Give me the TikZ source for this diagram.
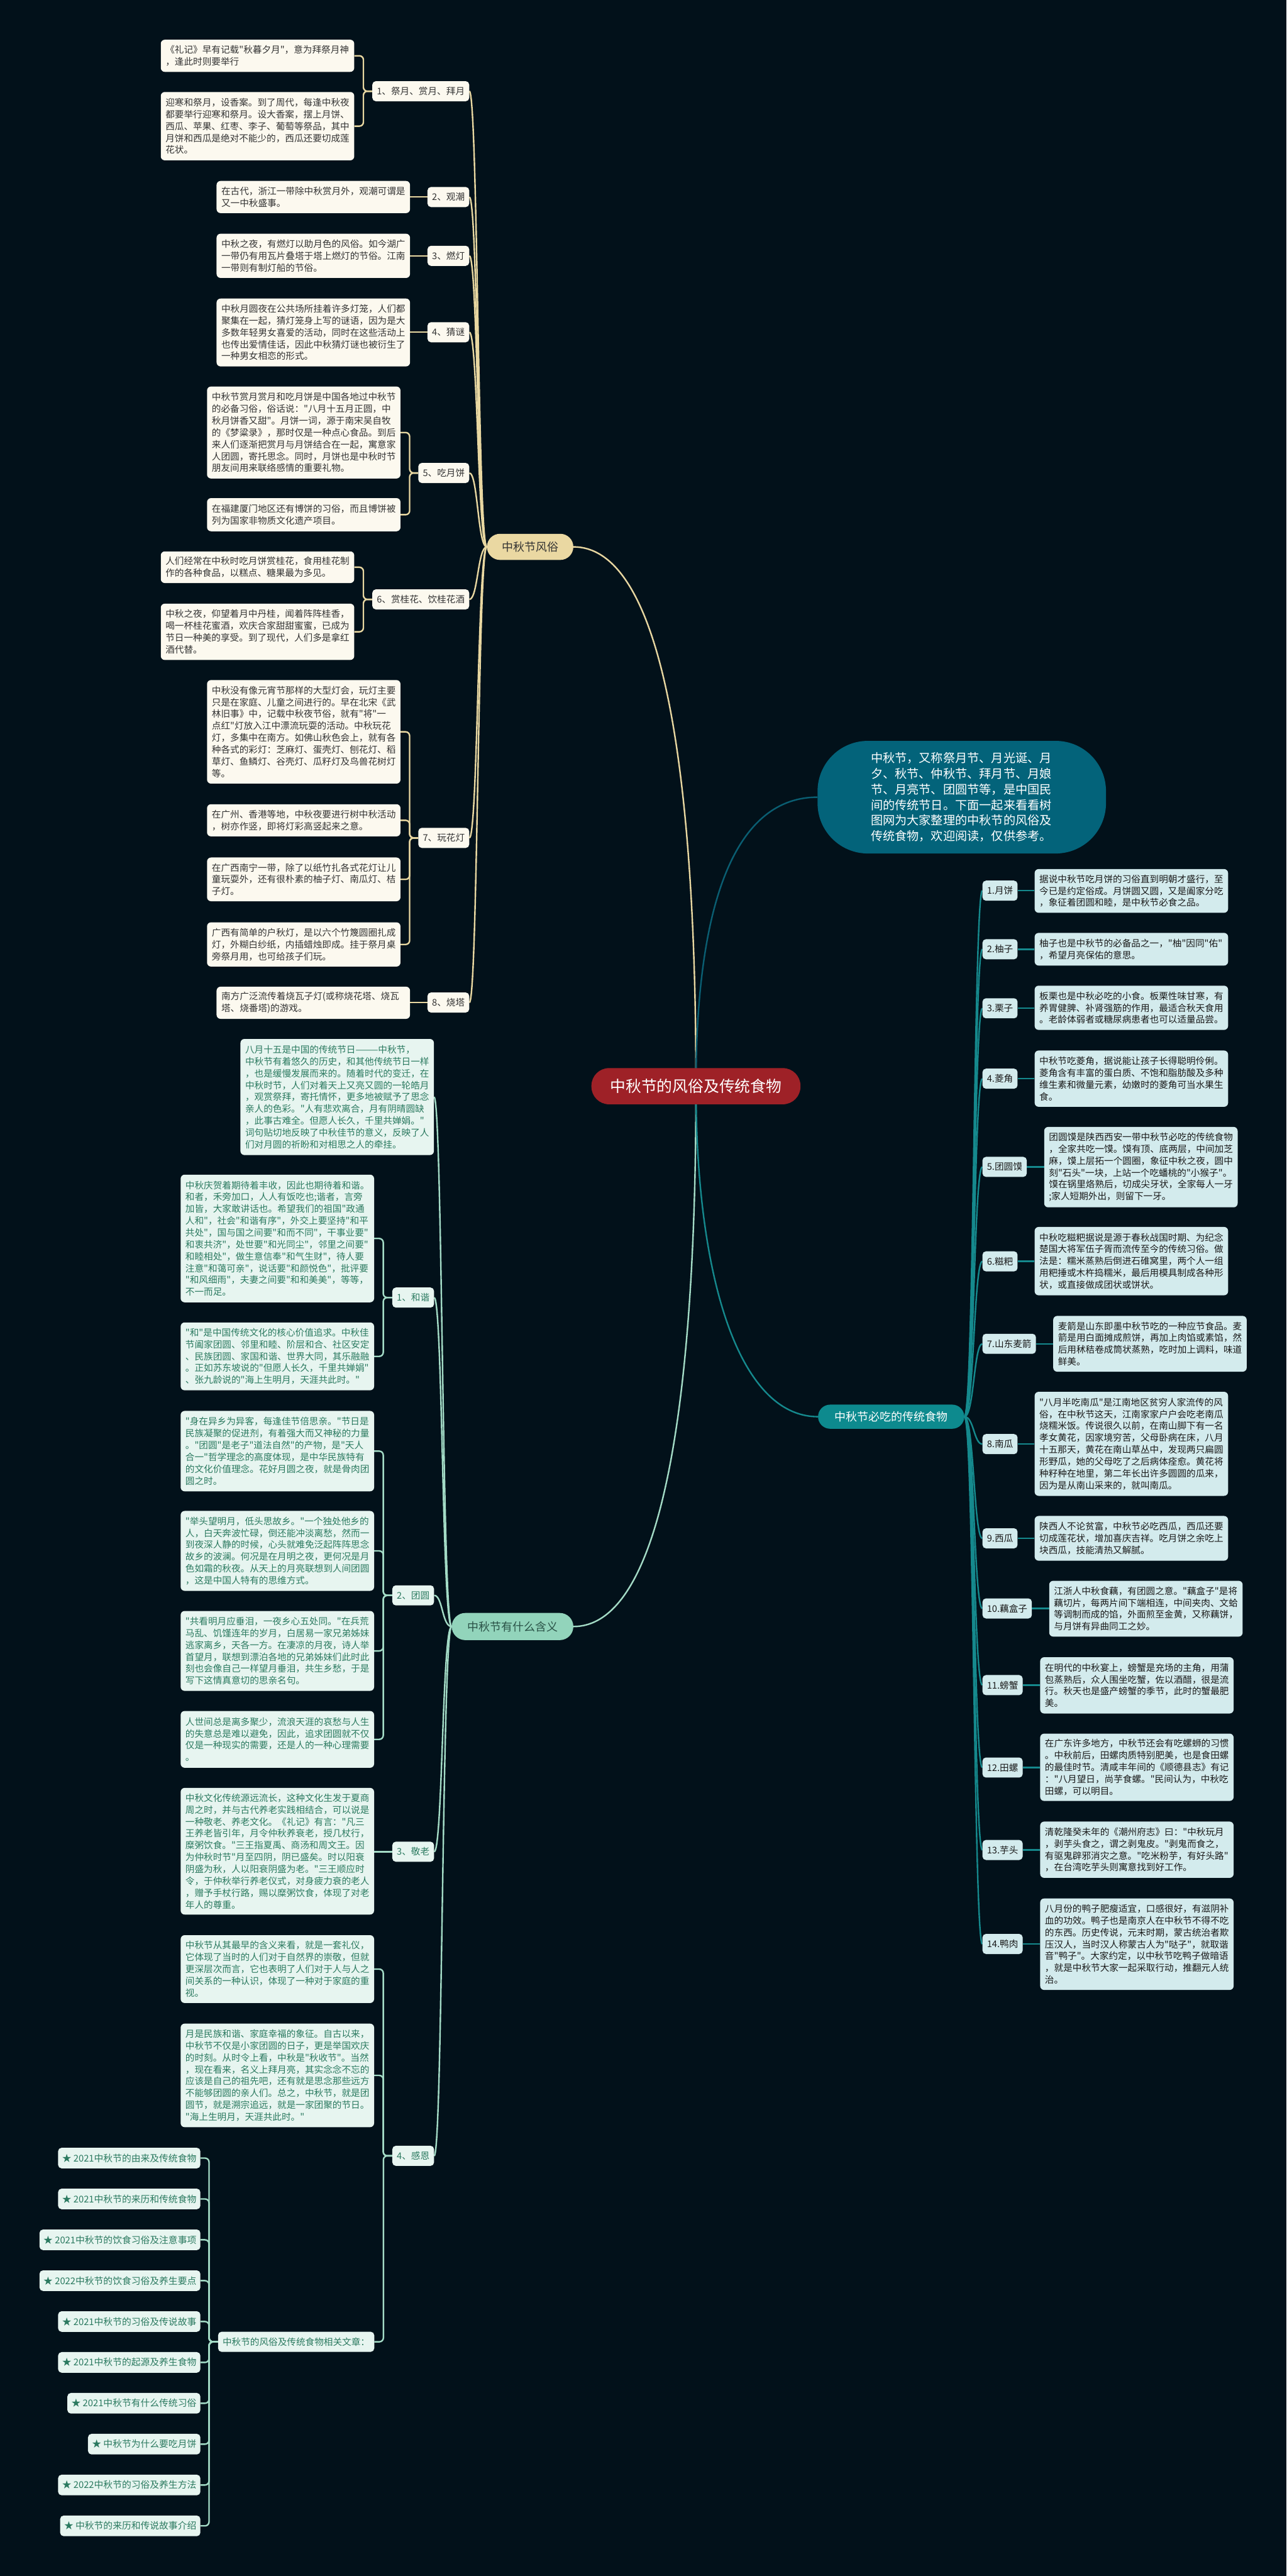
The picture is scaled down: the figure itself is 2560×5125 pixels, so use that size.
\documentclass[tikz,border=0pt]{standalone}
\usepackage{fontspec}
\newfontfamily\cjk{Noto Sans CJK SC}
\usetikzlibrary{calc}
\pgfdeclarelayer{bgl}
\pgfdeclarelayer{lnl}
\pgfsetlayers{bgl,lnl,main}
\definecolor{bgc}{HTML}{02111A}
\definecolor{creamf}{HTML}{FCF9EF}
\definecolor{darkt}{HTML}{333333}
\definecolor{beigel}{HTML}{E8D7A1}
\definecolor{beigef}{HTML}{EAD8A2}
\definecolor{mintf}{HTML}{E7F5F0}
\definecolor{mintt}{HTML}{2B7A60}
\definecolor{mintl}{HTML}{A3DBC6}
\definecolor{mintb}{HTML}{92D4BB}
\definecolor{mintbt}{HTML}{2A5247}
\definecolor{foodf}{HTML}{D3EBED}
\definecolor{foodt}{HTML}{1A1A1A}
\definecolor{foodl}{HTML}{15898D}
\definecolor{foodb}{HTML}{0D8A8E}
\definecolor{sumf}{HTML}{03637A}
\definecolor{suml}{HTML}{0A5E72}
\definecolor{rootf}{HTML}{9E2127}
\tikzset{
  txtbox/.style={rounded corners=8pt, align=left, text width=366pt, inner xsep=9.5pt, inner ysep=3pt, font=\cjk\fontsize{18.3}{23.6}\selectfont},
  cbox/.style={txtbox, fill=creamf, text=darkt},
  mbox/.style={txtbox, fill=mintf, text=mintt},
  fbox/.style={txtbox, fill=foodf, text=foodt},
  labbox/.style={rounded corners=7pt, inner xsep=9pt, inner ysep=0pt, minimum height=40pt, font=\cjk\fontsize{18.3}{22}\selectfont},
  clab/.style={labbox, fill=creamf, text=darkt, anchor=east},
  mlab/.style={labbox, fill=mintf, text=mintt, anchor=east},
  flab/.style={labbox, fill=foodf, text=foodt, anchor=west},
  itembox/.style={labbox, fill=mintf, text=mintt, anchor=east, inner xsep=8pt, minimum height=41pt, font=\cjk\fontsize{18.5}{22}\selectfont},
  bline/.style={draw=beigel, line width=3pt},
  mline/.style={draw=mintl, line width=3pt},
  fline/.style={draw=foodl, line width=3pt},
  brk/.style={rounded corners=8pt},
}
\begin{document}
\cjk
\begin{tikzpicture}[x=1pt,y=-1pt]
\useasboundingbox (0,0) rectangle (2560,5125);
\begin{pgfonlayer}{bgl}
\fill[bgc] (0,0) rectangle (2560,5125);
\end{pgfonlayer}

% ---------- root and branches ----------
\node[fill=rootf, text=white, rounded corners=35pt, minimum width=416pt, minimum height=72pt, font=\cjk\fontsize{31}{36}\selectfont] (root) at (1385,2161) {中秋节的风俗及传统食物};
\node[fill=beigef, text=darkt, rounded corners=26pt, minimum width=172pt, minimum height=52pt, font=\cjk\fontsize{22.5}{26}\selectfont] (b1) at (1055,1088) {中秋节风俗};
\node[fill=mintb, text=mintbt, rounded corners=27pt, minimum width=242pt, minimum height=54pt, font=\cjk\fontsize{22.5}{26}\selectfont] (b2) at (1020,3236) {中秋节有什么含义};
\node[fill=foodb, text=white, rounded corners=24pt, minimum width=291pt, minimum height=48pt, font=\cjk\fontsize{22.5}{26}\selectfont] (b3) at (1773.5,2818.5) {中秋节必吃的传统食物};
\node[fill=sumf, text=white, rounded corners=100pt, minimum width=574pt, minimum height=224pt, align=left, text width=362pt, font=\cjk\fontsize{24}{31}\selectfont] (sum) at (1914,1586) {中秋节，又称祭月节、月光诞、月\\夕、秋节、仲秋节、拜月节、月娘\\节、月亮节、团圆节等，是中国民\\间的传统节日。下面一起来看看树\\图网为大家整理的中秋节的风俗及\\传统食物，欢迎阅读，仅供参考。};

% ---------- 中秋节风俗 ----------
\node[clab] (tl1) at (934,181.5) {1、祭月、赏月、拜月};
\node[clab] (tl2) at (934,392) {2、观潮};
\node[clab] (tl3) at (934,509) {3、燃灯};
\node[clab] (tl4) at (934,661) {4、猜谜};
\node[clab] (tl5) at (934,941) {5、吃月饼};
\node[clab] (tl6) at (934,1192.5) {6、赏桂花、饮桂花酒};
\node[clab] (tl7) at (934,1667) {7、玩花灯};
\node[clab] (tl8) at (934,1994.5) {8、烧塔};

\node[cbox, minimum height=64pt] (ta1) at (512.5,111) {《礼记》早有记载"秋暮夕月"，意为拜祭月神\\，逢此时则要举行};
\node[cbox, minimum height=136pt] (ta2) at (512.5,251) {迎寒和祭月，设香案。到了周代，每逢中秋夜\\都要举行迎寒和祭月。设大香案，摆上月饼、\\西瓜、苹果、红枣、李子、葡萄等祭品，其中\\月饼和西瓜是绝对不能少的，西瓜还要切成莲\\花状。};
\node[cbox, minimum height=64pt] (tb) at (623.5,392) {在古代，浙江一带除中秋赏月外，观潮可谓是\\又一中秋盛事。};
\node[cbox, minimum height=88pt] (tc) at (623.5,509) {中秋之夜，有燃灯以助月色的风俗。如今湖广\\一带仍有用瓦片叠塔于塔上燃灯的节俗。江南\\一带则有制灯船的节俗。};
\node[cbox, minimum height=135pt] (td) at (623.5,661.5) {中秋月圆夜在公共场所挂着许多灯笼，人们都\\聚集在一起，猜灯笼身上写的谜语，因为是大\\多数年轻男女喜爱的活动，同时在这些活动上\\也传出爱情佳话，因此中秋猜灯谜也被衍生了\\一种男女相恋的形式。};
\node[cbox, minimum height=183pt] (te1) at (604.5,860.5) {中秋节赏月赏月和吃月饼是中国各地过中秋节\\的必备习俗，俗话说："八月十五月正圆，中\\秋月饼香又甜"。月饼一词，源于南宋吴自牧\\的《梦粱录》，那时仅是一种点心食品。到后\\来人们逐渐把赏月与月饼结合在一起，寓意家\\人团圆，寄托思念。同时，月饼也是中秋时节\\朋友间用来联络感情的重要礼物。};
\node[cbox, minimum height=66pt] (te2) at (604.5,1024) {在福建厦门地区还有博饼的习俗，而且博饼被\\列为国家非物质文化遗产项目。};
\node[cbox, minimum height=63pt] (tf1) at (512.5,1128.5) {人们经常在中秋时吃月饼赏桂花，食用桂花制\\作的各种食品，以糕点、糖果最为多见。};
\node[cbox, minimum height=112pt] (tf2) at (512.5,1257) {中秋之夜，仰望着月中丹桂，闻着阵阵桂香，\\喝一杯桂花蜜酒，欢庆合家甜甜蜜蜜，已成为\\节日一种美的享受。到了现代，人们多是拿红\\酒代替。};
\node[cbox, minimum height=206pt] (tg1) at (604.5,1456) {中秋没有像元宵节那样的大型灯会，玩灯主要\\只是在家庭、儿童之间进行的。早在北宋《武\\林旧事》中，记载中秋夜节俗，就有"将"一\\点红"灯放入江中漂流玩耍的活动。中秋玩花\\灯，多集中在南方。如佛山秋色会上，就有各\\种各式的彩灯：芝麻灯、蛋壳灯、刨花灯、稻\\草灯、鱼鳞灯、谷壳灯、瓜籽灯及鸟兽花树灯\\等。};
\node[cbox, minimum height=64pt] (tg2) at (604.5,1632) {在广州、香港等地，中秋夜要进行树中秋活动\\，树亦作竖，即将灯彩高竖起来之意。};
\node[cbox, minimum height=87pt] (tg3) at (604.5,1749.5) {在广西南宁一带，除了以纸竹扎各式花灯让儿\\童玩耍外，还有很朴素的柚子灯、南瓜灯、桔\\子灯。};
\node[cbox, minimum height=88pt] (tg4) at (604.5,1879) {广西有简单的户秋灯，是以六个竹篾圆圈扎成\\灯，外糊白纱纸，内插蜡烛即成。挂于祭月桌\\旁祭月用，也可给孩子们玩。};
\node[cbox, minimum height=64pt] (th) at (623.5,1995) {南方广泛流传着烧瓦子灯(或称烧花塔、烧瓦\\塔、烧番塔)的游戏。};

% ---------- 中秋节有什么含义 ----------
\node[mbox, minimum height=231pt] (m0) at (671,2182.5) {八月十五是中国的传统节日———中秋节，\\中秋节有着悠久的历史，和其他传统节日一样\\，也是缓慢发展而来的。随着时代的变迁，在\\中秋时节，人们对着天上又亮又圆的一轮皓月\\，观赏祭拜，寄托情怀，更多地被赋予了思念\\亲人的色彩。"人有悲欢离合，月有阴晴圆缺\\，此事古难全。但愿人长久，千里共婵娟。"\\词句贴切地反映了中秋佳节的意义，反映了人\\们对月圆的祈盼和对相思之人的牵挂。};
\node[mlab] (lh) at (864,2581.5) {1、和谐};
\node[mlab] (lt) at (864,3174) {2、团圆};
\node[mlab] (lj) at (864,3684) {3、敬老};
\node[mlab] (lg) at (864,4289) {4、感恩};

\node[mbox, minimum height=254pt] (mh1) at (552,2464) {中秋庆贺着期待着丰收，因此也期待着和谐。\\和者，禾旁加口，人人有饭吃也;谐者，言旁\\加皆，大家敢讲话也。希望我们的祖国"政通\\人和"，社会"和谐有序"，外交上要坚持"和平\\共处"，国与国之间要"和而不同"，干事业要"\\和衷共济"，处世要"和光同尘"，邻里之间要"\\和睦相处"，做生意信奉"和气生财"，待人要\\注意"和蔼可亲"，说话要"和颜悦色"，批评要\\"和风细雨"，夫妻之间要"和和美美"，等等，\\不一而足。};
\node[mbox, minimum height=135pt] (mh2) at (552,2698.5) {"和"是中国传统文化的核心价值追求。中秋佳\\节阖家团圆、邻里和睦、阶层和合、社区安定\\、民族团圆、家国和谐、世界大同，其乐融融\\。正如苏东坡说的"但愿人长久，千里共婵娟"\\、张九龄说的"海上生明月，天涯共此时。"};
\node[mbox, minimum height=160pt] (mt1) at (552,2887) {"身在异乡为异客，每逢佳节倍思亲。"节日是\\民族凝聚的促进剂，有着强大而又神秘的力量\\。"团圆"是老子"道法自然"的产物，是"天人\\合一"哲学理念的高度体现，是中华民族特有\\的文化价值理念。花好月圆之夜，就是骨肉团\\圆之时。};
\node[mbox, minimum height=159pt] (mt2) at (552,3085.5) {"举头望明月，低头思故乡。"一个独处他乡的\\人，白天奔波忙碌，倒还能冲淡离愁，然而一\\到夜深人静的时候，心头就难免泛起阵阵思念\\故乡的波澜。何况是在月明之夜，更何况是月\\色如霜的秋夜。从天上的月亮联想到人间团圆\\，这是中国人特有的思维方式。};
\node[mbox, minimum height=159pt] (mt3) at (552,3284.5) {"共看明月应垂泪，一夜乡心五处同。"在兵荒\\马乱、饥馑连年的岁月，白居易一家兄弟姊妹\\逃家离乡，天各一方。在凄凉的月夜，诗人举\\首望月，联想到漂泊各地的兄弟姊妹们此时此\\刻也会像自己一样望月垂泪，共生乡愁，于是\\写下这情真意切的思亲名句。};
\node[mbox, minimum height=113pt] (mt4) at (552,3460.5) {人世间总是离多聚少，流浪天涯的哀愁与人生\\的失意总是难以避免，因此，追求团圆就不仅\\仅是一种现实的需要，还是人的一种心理需要\\。};
\node[mbox, minimum height=252pt] (mj) at (552,3683) {中秋文化传统源远流长，这种文化生发于夏商\\周之时，并与古代养老实践相结合，可以说是\\一种敬老、养老文化。《礼记》有言："凡三\\王养老皆引年，月令仲秋养衰老，授几杖行，\\糜粥饮食。"三王指夏禹、商汤和周文王。因\\为仲秋时节"月至四阴，阴已盛矣。时以阳衰\\阴盛为秋，人以阳衰阴盛为老。"三王顺应时\\令，于仲秋举行养老仪式，对身疲力衰的老人\\，赠予手杖行路，赐以糜粥饮食，体现了对老\\年人的尊重。};
\node[mbox, minimum height=135pt] (mg1) at (552,3917.5) {中秋节从其最早的含义来看，就是一套礼仪，\\它体现了当时的人们对于自然界的崇敬，但就\\更深层次而言，它也表明了人们对于人与人之\\间关系的一种认识，体现了一种对于家庭的重\\视。};
\node[mbox, minimum height=206pt] (mg2) at (552,4129) {月是民族和谐、家庭幸福的象征。自古以来，\\中秋节不仅是小家团圆的日子，更是举国欢庆\\的时刻。从时令上看，中秋是"秋收节"。当然\\，现在看来，名义上拜月亮，其实念念不忘的\\应该是自己的祖先吧，还有就是思念那些远方\\不能够团圆的亲人们。总之，中秋节，就是团\\圆节，就是溯宗追远，就是一家团聚的节日。\\"海上生明月，天涯共此时。"};
\node[mlab] (rel) at (745,4659) {中秋节的风俗及传统食物相关文章：};

\node[itembox] (it1) at (399,4293.5) {★ 2021中秋节的由来及传统食物};
\node[itembox] (it2) at (399,4374.8) {★ 2021中秋节的来历和传统食物};
\node[itembox] (it3) at (399,4456.1) {★ 2021中秋节的饮食习俗及注意事项};
\node[itembox] (it4) at (399,4537.4) {★ 2022中秋节的饮食习俗及养生要点};
\node[itembox] (it5) at (399,4618.7) {★ 2021中秋节的习俗及传说故事};
\node[itembox] (it6) at (399,4700) {★ 2021中秋节的起源及养生食物};
\node[itembox] (it7) at (399,4781.3) {★ 2021中秋节有什么传统习俗};
\node[itembox] (it8) at (399,4862.6) {★ 中秋节为什么要吃月饼};
\node[itembox] (it9) at (399,4943.9) {★ 2022中秋节的习俗及养生方法};
\node[itembox] (it10) at (399,5025.2) {★ 中秋节的来历和传说故事介绍};

% ---------- 中秋节必吃的传统食物 ----------
\node[flab] (fl1) at (1955,1772) {1.月饼};
\node[flab] (fl2) at (1955,1888.5) {2.柚子};
\node[flab] (fl3) at (1955,2006) {3.栗子};
\node[flab] (fl4) at (1955,2146) {4.菱角};
\node[flab] (fl5) at (1955,2321.5) {5.团圆馍};
\node[flab] (fl6) at (1955,2509.5) {6.糍粑};
\node[flab] (fl7) at (1955,2673.5) {7.山东麦箭};
\node[flab] (fl8) at (1955,2873) {8.南瓜};
\node[flab] (fl9) at (1955,3060.5) {9.西瓜};
\node[flab] (fl10) at (1955,3200) {10.藕盒子};
\node[flab] (fl11) at (1955,3352.5) {11.螃蟹};
\node[flab] (fl12) at (1955,3516.5) {12.田螺};
\node[flab] (fl13) at (1955,3680.5) {13.芋头};
\node[flab] (fl14) at (1955,3867.5) {14.鸭肉};

\node[fbox, minimum height=87pt] (fb1) at (2251.5,1772.5) {据说中秋节吃月饼的习俗直到明朝才盛行，至\\今已是约定俗成。月饼圆又圆，又是阖家分吃\\，象征着团圆和睦，是中秋节必食之品。};
\node[fbox, minimum height=65pt] (fb2) at (2251.5,1888.5) {柚子也是中秋节的必备品之一，"柚"因同"佑"\\，希望月亮保佑的意思。};
\node[fbox, minimum height=88pt] (fb3) at (2251.5,2005) {板栗也是中秋必吃的小食。板栗性味甘寒，有\\养胃健脾、补肾强筋的作用，最适合秋天食用\\。老龄体弱者或糖尿病患者也可以适量品尝。};
\node[fbox, minimum height=112pt] (fb4) at (2251.5,2146) {中秋节吃菱角，据说能让孩子长得聪明伶俐。\\菱角含有丰富的蛋白质、不饱和脂肪酸及多种\\维生素和微量元素，幼嫩时的菱角可当水果生\\食。};
\node[fbox, minimum height=160pt] (fb5) at (2270.5,2322) {团圆馍是陕西西安一带中秋节必吃的传统食物\\，全家共吃一馍。馍有顶、底两层，中间加芝\\麻，馍上层拓一个圆圈，象征中秋之夜，圆中\\刻"石头"一块，上站一个吃蟠桃的"小猴子"。\\馍在锅里烙熟后，切成尖牙状，全家每人一牙\\;家人短期外出，则留下一牙。};
\node[fbox, minimum height=136pt] (fb6) at (2251.5,2509) {中秋吃糍粑据说是源于春秋战国时期、为纪念\\楚国大将军伍子胥而流传至今的传统习俗。做\\法是：糯米蒸熟后倒进石碓窝里，两个人一组\\用粑捶或木杵捣糯米，最后用模具制成各种形\\状，或直接做成团状或饼状。};
\node[fbox, minimum height=111pt] (fb7) at (2288.5,2673.5) {麦箭是山东即墨中秋节吃的一种应节食品。麦\\箭是用白面摊成煎饼，再加上肉馅或素馅，然\\后用秫秸卷成筒状蒸熟，吃时加上调料，味道\\鲜美。};
\node[fbox, minimum height=207pt] (fb8) at (2251.5,2872.5) {"八月半吃南瓜"是江南地区贫穷人家流传的风\\俗，在中秋节这天，江南家家户户会吃老南瓜\\烧糯米饭。传说很久以前，在南山脚下有一名\\孝女黄花，因家境穷苦，父母卧病在床，八月\\十五那天，黄花在南山草丛中，发现两只扁圆\\形野瓜，她的父母吃了之后病体痊愈。黄花将\\种籽种在地里，第二年长出许多圆圆的瓜来，\\因为是从南山采来的，就叫南瓜。};
\node[fbox, minimum height=89pt] (fb9) at (2251.5,3060.5) {陕西人不论贫富，中秋节必吃西瓜，西瓜还要\\切成莲花状，增加喜庆吉祥。吃月饼之余吃上\\块西瓜，技能清热又解腻。};
\node[fbox, minimum height=111pt] (fb10) at (2280.5,3200.5) {江浙人中秋食藕，有团圆之意。"藕盒子"是将\\藕切片，每两片间下端相连，中间夹肉、文蛤\\等调制而成的馅，外面煎至金黄，又称藕饼，\\与月饼有异曲同工之妙。};
\node[fbox, minimum height=112pt] (fb11) at (2262.5,3353) {在明代的中秋宴上，螃蟹是充场的主角，用蒲\\包蒸熟后，众人围坐吃蟹，佐以酒醋，很是流\\行。秋天也是盛产螃蟹的季节，此时的蟹最肥\\美。};
\node[fbox, minimum height=134pt] (fb12) at (2262.5,3516) {在广东许多地方，中秋节还会有吃螺蛳的习惯\\。中秋前后，田螺肉质特别肥美，也是食田螺\\的最佳时节。清咸丰年间的《顺德县志》有记\\："八月望日，尚芋食螺。"民间认为，中秋吃\\田螺，可以明目。};
\node[fbox, minimum height=112pt] (fb13) at (2262.5,3680) {清乾隆癸未年的《潮州府志》曰："中秋玩月\\，剥芋头食之，谓之剥鬼皮。"剥鬼而食之，\\有驱鬼辟邪消灾之意。"吃米粉芋，有好头路"\\，在台湾吃芋头则寓意找到好工作。};
\node[fbox, minimum height=182pt] (fb14) at (2262.5,3868) {八月份的鸭子肥瘦适宜，口感很好，有滋阴补\\血的功效。鸭子也是南京人在中秋节不得不吃\\的东西。历史传说，元末时期，蒙古统治者欺\\压汉人，当时汉人称蒙古人为"哒子"，就取谐\\音"鸭子"。大家约定，以中秋节吃鸭子做暗语\\，就是中秋节大家一起采取行动，推翻元人统\\治。};

% ---------- connectors ----------
\begin{pgfonlayer}{lnl}
\draw[bline] (root.center) .. controls (1385,1450) and (1300,1088) .. (b1.east);
\draw[mline] (root.center) .. controls (1385,2872) and (1300,3236) .. (b2.east);
\draw[draw=suml, line width=3pt] (root.center) .. controls (1385,1780) and (1470,1586) .. (sum.west);
\draw[fline] (root.center) .. controls (1385,2540) and (1470,2818.5) .. (b3.west);

\foreach \c in {tl1,tl2,tl3,tl4,tl5,tl6,tl7,tl8}
  \draw[bline] (b1.west) .. controls +(-18,0) and +(17,0) .. (\c.east);
\foreach \c in {m0,lh,lt,lj,lg}
  \draw[mline] (b2.west) .. controls +(-19,0) and +(17,0) .. (\c.east);
\foreach \c in {fl1,fl2,fl3,fl4,fl5,fl6,fl7,fl8,fl9,fl10,fl11,fl12,fl13,fl14}
  \draw[fline] (b3.east) .. controls +(19,0) and +(-17,0) .. (\c.west);

\foreach \b/\l in {ta1/tl1,ta2/tl1,te1/tl5,te2/tl5,tf1/tl6,tf2/tl6,tg1/tl7,tg2/tl7,tg3/tl7,tg4/tl7}
  \draw[bline, brk] (\b.east) -- ++(18,0) |- (\l.west);
\foreach \b/\l in {tb/tl2,tc/tl3,td/tl4,th/tl8}
  \draw[bline] (\l.west) -- (\l.west -| \b.east);

\foreach \b/\l in {mh1/lh,mh2/lh,mt1/lt,mt2/lt,mt3/lt,mt4/lt,mg1/lg,mg2/lg,rel/lg}
  \draw[mline, brk] (\b.east) -- ++(18,0) |- (\l.west);
\draw[mline] (lj.west) -- (lj.west -| mj.east);
\foreach \b in {it1,it2,it3,it4,it5,it6,it7,it8,it9,it10}
  \draw[mline, brk] (\b.east) -- ++(17,0) |- (rel.west);

\foreach \l/\b in {fl1/fb1,fl2/fb2,fl3/fb3,fl4/fb4,fl5/fb5,fl6/fb6,fl7/fb7,fl8/fb8,fl9/fb9,fl10/fb10,fl11/fb11,fl12/fb12,fl13/fb13,fl14/fb14}
  \draw[fline] (\l.east) -- (\l.east -| \b.west);
\end{pgfonlayer}
\end{tikzpicture}
\end{document}
